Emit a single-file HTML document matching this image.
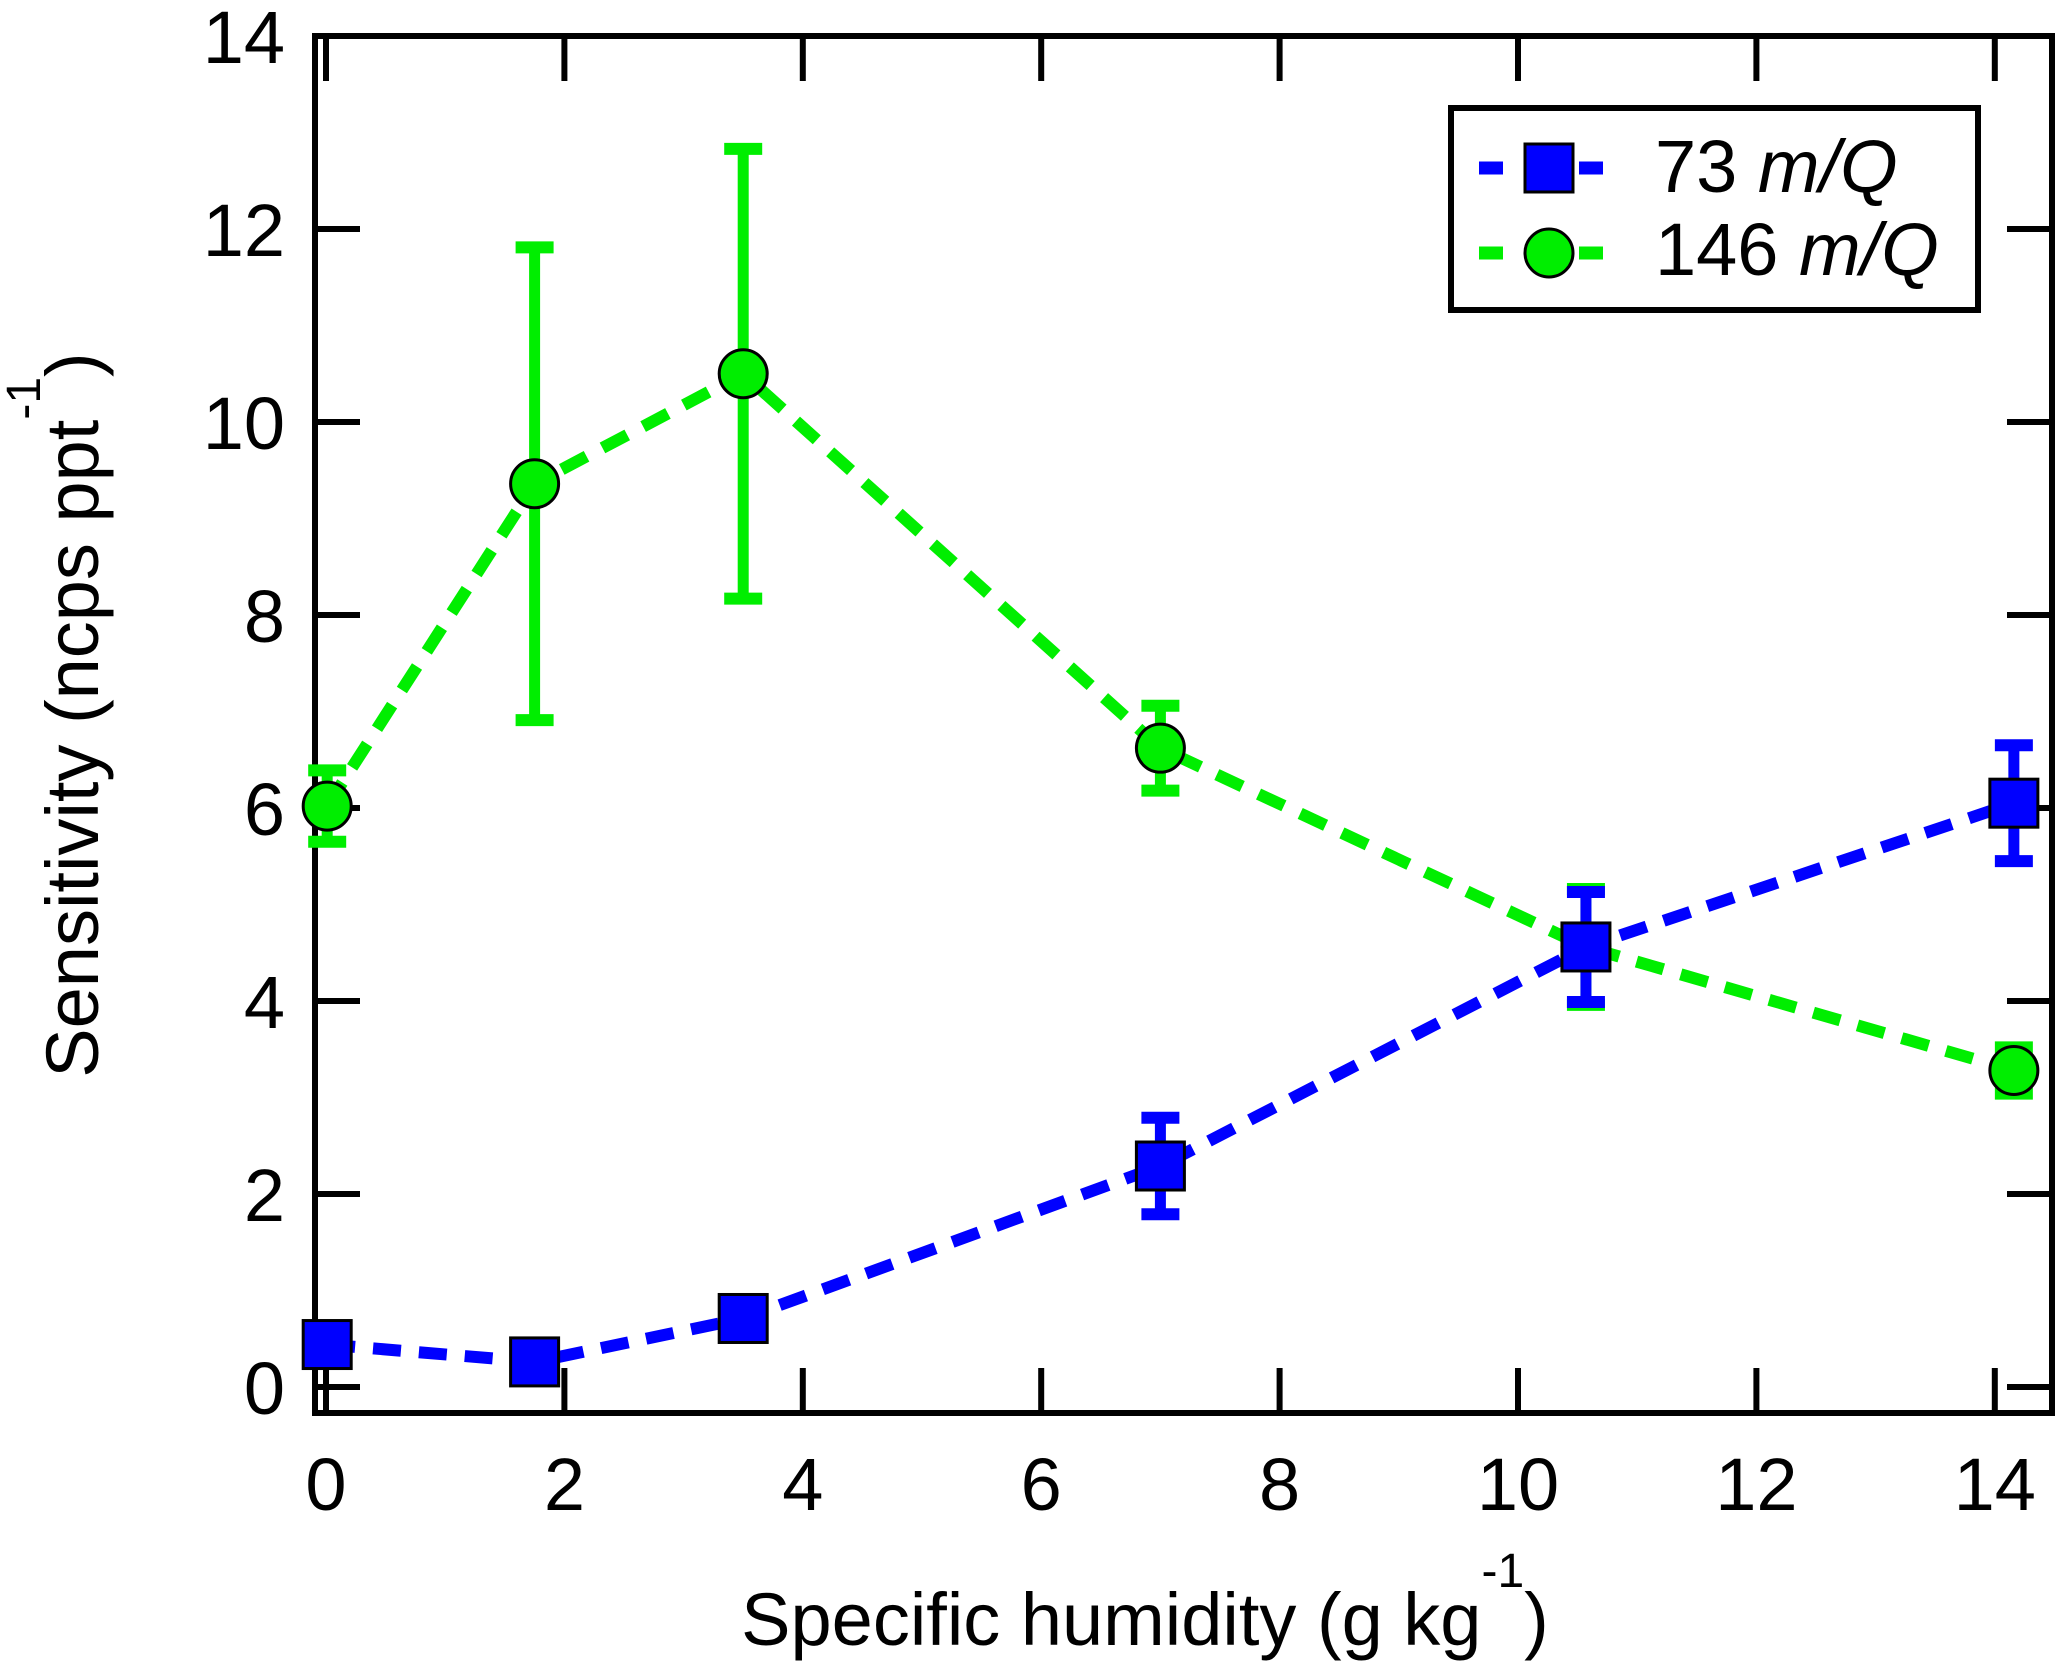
<!DOCTYPE html>
<html><head><meta charset="utf-8"><style>
html,body{margin:0;padding:0;background:#fff;}
svg{display:block;}
text{font-family:"Liberation Sans",Arial,sans-serif;fill:#000;}
</style></head><body>
<svg id="chart" width="2067" height="1666" viewBox="0 0 2067 1666" xmlns="http://www.w3.org/2000/svg">
<g id="axes"></g>
<g id="series"></g>
<g id="legend">
  <rect x="1451" y="108" width="527" height="202" fill="#fff" stroke="#000" stroke-width="6"/>
  <g>
    <line x1="1479" y1="168" x2="1503" y2="168" stroke="#0000ff" stroke-width="13"/>
    <line x1="1579" y1="168" x2="1603" y2="168" stroke="#0000ff" stroke-width="13"/>
    <rect x="1525" y="144" width="48" height="48" fill="#0000ff" stroke="#000" stroke-width="3"/>
    <text x="1655" y="192" font-size="74">73 <tspan font-style="italic">m/Q</tspan></text>
  </g>
  <g>
    <line x1="1479" y1="253" x2="1503" y2="253" stroke="#00ee00" stroke-width="13"/>
    <line x1="1579" y1="253" x2="1603" y2="253" stroke="#00ee00" stroke-width="13"/>
    <circle cx="1549" cy="253" r="24" fill="#00ee00" stroke="#000" stroke-width="3"/>
    <text x="1655" y="275" font-size="74">146 <tspan font-style="italic">m/Q</tspan></text>
  </g>
</g>
<text x="1145" y="1645" font-size="74" text-anchor="middle">Specific humidity (g kg<tspan dy="-58" font-size="48">-1</tspan><tspan dy="58">)</tspan></text>
<text transform="translate(98,715) rotate(-90)" font-size="74" text-anchor="middle">Sensitivity (ncps ppt<tspan dy="-58" font-size="48">-1</tspan><tspan dy="58">)</tspan></text>
</svg>
<script>
const xValues = [0.01, 1.75, 3.5, 7.0, 10.57, 14.16];
const green146 = [6.02, 9.36, 10.5, 6.62, 4.56, 3.28];
const green146Err = [0.37, 2.45, 2.33, 0.44, 0.6, 0.24];
const blue73 = [0.44, 0.26, 0.71, 2.29, 4.56, 6.05];
const blue73Err = [0.05, 0.05, 0.05, 0.5, 0.57, 0.6];
const xTicks = [0, 2, 4, 6, 8, 10, 12, 14];
const yTicks = [0, 2, 4, 6, 8, 10, 12, 14];

const NS = 'http://www.w3.org/2000/svg';
const X0 = 326, XS = 119.2, Y0 = 1387, YS = 96.5;
const L = 315, R = 2052, T = 36, B = 1413;
function sx(v){ return X0 + v * XS; }
function sy(v){ return Y0 - v * YS; }
function mk(tag, attrs, parent){
  const el = document.createElementNS(NS, tag);
  for (const k in attrs) el.setAttribute(k, attrs[k]);
  parent.appendChild(el);
  return el;
}
const axes = document.getElementById('axes');
const series = document.getElementById('series');

const frame = mk('rect', {x:L, y:T, width:R-L, height:B-T, fill:'none', stroke:'#000', 'stroke-width':6}, axes);



xTicks.forEach(t => {
  const x = sx(t);
  const g = mk('g', {}, axes);
  
  
  mk('line', {x1:x, y1:B, x2:x, y2:B-45, stroke:'#000', 'stroke-width':6}, g);
  mk('line', {x1:x, y1:T, x2:x, y2:T+45, stroke:'#000', 'stroke-width':6}, g);
  const tx = mk('text', {x:x, y:1510, 'font-size':74, 'text-anchor':'middle'}, g);
  tx.textContent = t;
});
yTicks.forEach(t => {
  const y = sy(t);
  const g = mk('g', {}, axes);
  
  
  mk('line', {x1:L, y1:y, x2:L+45, y2:y, stroke:'#000', 'stroke-width':6}, g);
  mk('line', {x1:R, y1:y, x2:R-45, y2:y, stroke:'#000', 'stroke-width':6}, g);
  const tx = mk('text', {x:285, y:y+27, 'font-size':74, 'text-anchor':'end'}, g);
  tx.textContent = t;
});

function drawSeries(name, vals, errs, color, marker){
  const g = mk('g', {}, series);
  
  
  const pts = xValues.map((x,i) => sx(x) + ',' + sy(vals[i])).join(' ');
  const pl = mk('polyline', {points:pts, fill:'none', stroke:color, 'stroke-width':12, 'stroke-dasharray':'28 18'}, g);
  
  
  xValues.forEach((x,i) => {
    const cx = sx(x);
    const yt = sy(vals[i] + errs[i]), yb = sy(vals[i] - errs[i]);
    const eb = mk('g', {}, g);
    
    
    mk('line', {x1:cx, y1:yt, x2:cx, y2:yb, stroke:color, 'stroke-width':11}, eb);
    mk('line', {x1:cx-19, y1:yt, x2:cx+19, y2:yt, stroke:color, 'stroke-width':12}, eb);
    mk('line', {x1:cx-19, y1:yb, x2:cx+19, y2:yb, stroke:color, 'stroke-width':12}, eb);
  });
  xValues.forEach((x,i) => {
    const cx = sx(x), cy = sy(vals[i]);
    let m;
    if (marker === 'square') m = mk('rect', {x:cx-24, y:cy-24, width:48, height:48, fill:color, stroke:'#000', 'stroke-width':3}, g);
    else m = mk('circle', {cx:cx, cy:cy, r:24, fill:color, stroke:'#000', 'stroke-width':3}, g);
    
    
  });
}
drawSeries('series-146', green146, green146Err, '#00ee00', 'circle');
drawSeries('series-73', blue73, blue73Err, '#0000ff', 'square');
</script>
</body></html>
